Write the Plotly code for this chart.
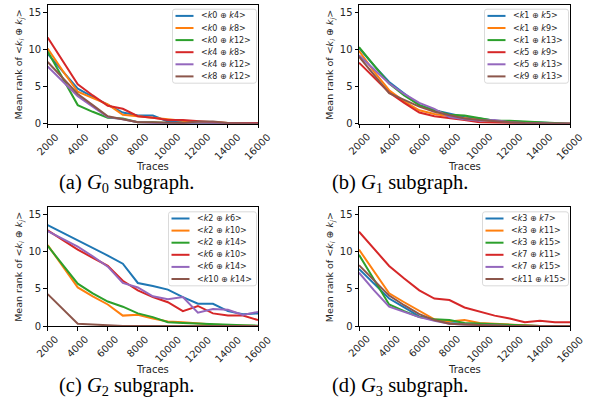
import plotly.graph_objects as go

W, H = 592, 410

traces = [2000, 3000, 4000, 5000, 6000, 7000, 8000, 9000, 10000,
          11000, 12000, 13000, 14000, 15000, 16000]
x_ticks = [2000, 4000, 6000, 8000, 10000, 12000, 14000, 16000]
y_ticks = [0, 5, 10, 15]

# (a) G0
g0_names = [("0", "4"), ("0", "8"), ("0", "12"), ("4", "8"), ("4", "12"), ("8", "12")]
g0_k0k4 = [9.4, 7.0, 4.7, 3.6, 2.5, 1.5, 1.1, 1.1, 0.3, 0.2, 0.2, 0.1, 0.0, 0.0, 0.0]
g0_k0k8 = [10.1, 7.1, 4.3, 3.5, 2.6, 1.2, 1.0, 0.8, 0.6, 0.4, 0.2, 0.2, 0.05, 0.0, 0.0]
g0_k0k12 = [9.7, 6.0, 2.5, 1.6, 0.8, 0.7, 0.2, 0.2, 0.1, 0.0, 0.0, 0.0, 0.0, 0.0, 0.0]
g0_k4k8 = [11.6, 8.4, 5.3, 3.8, 2.4, 2.0, 1.0, 0.8, 0.5, 0.5, 0.3, 0.2, 0.1, 0.1, 0.1]
g0_k4k12 = [7.7, 5.7, 3.7, 2.3, 0.9, 0.6, 0.2, 0.1, 0.1, 0.0, 0.0, 0.0, 0.0, 0.0, 0.0]
g0_k8k12 = [8.3, 6.1, 4.0, 2.5, 1.0, 0.6, 0.2, 0.2, 0.2, 0.1, 0.3, 0.3, 0.1, 0.0, 0.0]

# (b) G1
g1_names = [("1", "5"), ("1", "9"), ("1", "13"), ("5", "9"), ("5", "13"), ("9", "13")]
g1_k1k5 = [10.2, 7.8, 5.6, 4.0, 2.5, 1.8, 1.3, 0.9, 0.7, 0.4, 0.3, 0.2, 0.1, 0.0, 0.0]
g1_k1k9 = [9.8, 7.0, 4.5, 3.0, 1.8, 1.3, 1.0, 0.7, 0.5, 0.3, 0.2, 0.1, 0.0, 0.0, 0.0]
g1_k1k13 = [10.3, 7.8, 5.4, 3.8, 2.5, 1.8, 1.2, 1.1, 0.7, 0.4, 0.4, 0.3, 0.1, 0.05, 0.0]
g1_k5k9 = [8.2, 6.2, 4.2, 2.8, 1.5, 1.0, 0.8, 0.5, 0.2, 0.2, 0.1, 0.0, 0.0, 0.0, 0.0]
g1_k5k13 = [9.2, 7.3, 5.4, 4.0, 2.8, 2.0, 0.9, 0.6, 0.4, 0.5, 0.2, 0.1, 0.0, 0.0, 0.0]
g1_k9k13 = [9.0, 6.5, 4.1, 3.2, 2.3, 1.6, 1.1, 0.7, 0.5, 0.3, 0.2, 0.1, 0.0, 0.0, 0.0]

# (c) G2
g2_names = [("2", "6"), ("2", "10"), ("2", "14"), ("6", "10"), ("6", "14"), ("10", "14")]
g2_k2k6 = [13.6, 12.6, 11.6, 10.5, 9.5, 8.4, 5.8, 5.4, 4.9, 3.9, 3.0, 3.0, 2.0, 1.6, 1.7]
g2_k2k10 = [10.9, 8.0, 5.2, 4.0, 2.9, 1.4, 1.5, 1.0, 0.6, 0.5, 0.3, 0.2, 0.1, 0.1, 0.0]
g2_k2k14 = [10.8, 8.2, 5.7, 4.4, 3.3, 2.6, 1.7, 1.2, 0.5, 0.4, 0.3, 0.2, 0.1, 0.1, 0.05]
g2_k6k10 = [12.9, 11.6, 10.3, 9.2, 8.1, 6.1, 4.8, 3.9, 3.2, 2.0, 2.7, 1.7, 1.4, 1.4, 0.8]
g2_k6k14 = [12.8, 11.8, 10.7, 9.4, 8.0, 5.8, 5.2, 4.0, 3.6, 3.9, 1.8, 2.3, 2.2, 1.5, 1.9]
g2_k10k14 = [4.3, 2.3, 0.3, 0.2, 0.05, 0.0, 0.0, 0.0, 0.0, 0.0, 0.0, 0.0, 0.0, 0.0, 0.0]

# (d) G3
g3_names = [("3", "7"), ("3", "11"), ("3", "15"), ("7", "11"), ("7", "15"), ("11", "15")]
g3_k3k7 = [7.7, 5.7, 3.7, 2.5, 1.3, 0.8, 0.4, 0.3, 0.2, 0.2, 0.1, 0.0, 0.0, 0.0, 0.0]
g3_k3k11 = [10.3, 7.3, 4.4, 3.2, 2.1, 0.9, 0.6, 0.8, 0.4, 0.3, 0.1, 0.05, 0.0, 0.0, 0.0]
g3_k3k15 = [9.6, 6.2, 2.9, 2.0, 1.2, 0.9, 0.8, 0.4, 0.3, 0.2, 0.1, 0.0, 0.0, 0.0, 0.0]
g3_k7k11 = [12.7, 10.4, 8.1, 6.4, 4.8, 3.7, 3.5, 2.5, 1.9, 1.4, 1.0, 0.5, 0.7, 0.5, 0.5]
g3_k7k15 = [7.2, 4.8, 2.6, 1.9, 1.2, 0.7, 0.3, 0.2, 0.1, 0.0, 0.0, 0.0, 0.0, 0.0, 0.0]
g3_k11k15 = [8.2, 6.1, 4.1, 2.8, 1.6, 0.8, 0.3, 0.2, 0.1, 0.0, 0.0, 0.0, 0.0, 0.0, 0.0]

captions = ["(a) <i>G</i><sub>0</sub> subgraph.", "(b) <i>G</i><sub>1</sub> subgraph.",
            "(c) <i>G</i><sub>2</sub> subgraph.", "(d) <i>G</i><sub>3</sub> subgraph."]

colors = ["#1f77b4", "#ff7f0e", "#2ca02c", "#d62728", "#9467bd", "#8c564b"]

panels = [
    (g0_names, [g0_k0k4, g0_k0k8, g0_k0k12, g0_k4k8, g0_k4k12, g0_k8k12]),
    (g1_names, [g1_k1k5, g1_k1k9, g1_k1k13, g1_k5k9, g1_k5k13, g1_k9k13]),
    (g2_names, [g2_k2k6, g2_k2k10, g2_k2k14, g2_k6k10, g2_k6k14, g2_k10k14]),
    (g3_names, [g3_k3k7, g3_k3k11, g3_k3k15, g3_k7k11, g3_k7k15, g3_k11k15]),
]

# pixel geometry of the axes boxes (left, right, top, bottom)
boxes = [(47.7, 258.0, 4.7, 123.7), (359.0, 570.0, 4.7, 123.7),
         (47.7, 258.0, 207.3, 326.0), (359.0, 570.0, 207.3, 326.0)]
legend_w = [84, 84, 88, 86]
caption_pos = [(126, 184), (400, 184), (126, 386), (400, 386)]

def px(x):
    return x / W

def py(y):
    return 1 - y / H

FONT = "DejaVu Sans"
TXT = "#262626"
fig = go.Figure()
shapes = []
annotations = []

for i, ((names, series), (l, r, t, b)) in enumerate(zip(panels, boxes)):
    ax = "" if i == 0 else str(i + 1)
    for j, (nm, vals) in enumerate(zip(names, series)):
        fig.add_trace(go.Scatter(
            x=traces, y=vals, mode="lines", showlegend=False,
            line=dict(color=colors[j], width=2),
            xaxis="x" + ax, yaxis="y" + ax,
            name=f"<k{nm[0]} ⊕ k{nm[1]}>"))
    axis_common = dict(showline=True, mirror=True, linecolor="black", linewidth=1,
                       ticks="outside", ticklen=3.5, tickwidth=1, tickcolor="black",
                       showgrid=False, zeroline=False, automargin=False,
                       tickfont=dict(family=FONT, size=10, color=TXT))
    fig.update_layout(**{
        "xaxis" + ax: dict(axis_common, domain=[px(l), px(r)], range=[2000, 16000],
                           tickvals=x_ticks, showticklabels=False, anchor="y" + ax),
        "yaxis" + ax: dict(axis_common, domain=[py(b), py(t)], range=[0, 16],
                           tickvals=y_ticks, anchor="x" + ax),
    })
    # rotated x tick labels, centred on their ticks
    for v in x_ticks:
        annotations.append(dict(text=str(v), x=v, xref="x" + ax, y=py(b + 5.2), yref="paper",
                                showarrow=False, textangle=-45, xanchor="center",
                                yanchor="top", font=dict(family=FONT, size=10, color=TXT)))
    # axis titles
    annotations.append(dict(text="Traces", x=px((l + r) / 2), y=py(b + 43), xref="paper",
                            yref="paper", showarrow=False, xanchor="center", yanchor="middle",
                            font=dict(family=FONT, size=10, color=TXT)))
    annotations.append(dict(text="Mean rank of &lt;<i>k<sub>i</sub></i> ⊕ <i>k<sub>j</sub></i>&gt;",
                            x=px(l - 28.5), y=py((t + b) / 2), xref="paper", yref="paper",
                            showarrow=False, textangle=-90, xanchor="center", yanchor="middle",
                            font=dict(family=FONT, size=9.5, color=TXT)))
    # legend box
    lw = legend_w[i]
    br = r - 1.5
    bl = br - lw
    bt = t + 4.5
    bb = bt + 74
    rad = 2.5
    path = (f"M {px(bl + rad)},{py(bt)} L {px(br - rad)},{py(bt)} "
            f"Q {px(br)},{py(bt)} {px(br)},{py(bt + rad)} L {px(br)},{py(bb - rad)} "
            f"Q {px(br)},{py(bb)} {px(br - rad)},{py(bb)} L {px(bl + rad)},{py(bb)} "
            f"Q {px(bl)},{py(bb)} {px(bl)},{py(bb - rad)} L {px(bl)},{py(bt + rad)} "
            f"Q {px(bl)},{py(bt)} {px(bl + rad)},{py(bt)} Z")
    shapes.append(dict(type="path", path=path, xref="paper", yref="paper",
                       line=dict(color="#d0d0d0", width=0.8),
                       fillcolor="rgba(255,255,255,0.8)", layer="above"))
    for j, nm in enumerate(names):
        yy = bt + 6.7 + j * 12.1
        shapes.append(dict(type="line", xref="paper", yref="paper",
                           x0=px(bl + 3), x1=px(bl + 21), y0=py(yy), y1=py(yy),
                           line=dict(color=colors[j], width=2), layer="above"))
        annotations.append(dict(
            text=f"&lt;<i>k</i>{nm[0]} ⊕ <i>k</i>{nm[1]}&gt;",
            x=px(bl + 26), y=py(yy), xref="paper", yref="paper", showarrow=False,
            xanchor="left", yanchor="middle",
            font=dict(family=FONT, size=8, color=TXT)))
    cx, cy = caption_pos[i]
    annotations.append(dict(text=captions[i], x=px(cx), y=py(cy), xref="paper", yref="paper",
                            showarrow=False, xanchor="center", yanchor="middle",
                            font=dict(family="Liberation Serif", size=20.5, color="black")))

fig.update_layout(width=W, height=H, margin=dict(l=0, r=0, t=0, b=0, pad=0, autoexpand=False),
                  paper_bgcolor="white", plot_bgcolor="white",
                  shapes=shapes, annotations=annotations, showlegend=False)

fig.write_html("out.html", config={"displayModeBar": False},
               post_script="document.body.style.margin='0px';document.body.style.padding='0px';")
